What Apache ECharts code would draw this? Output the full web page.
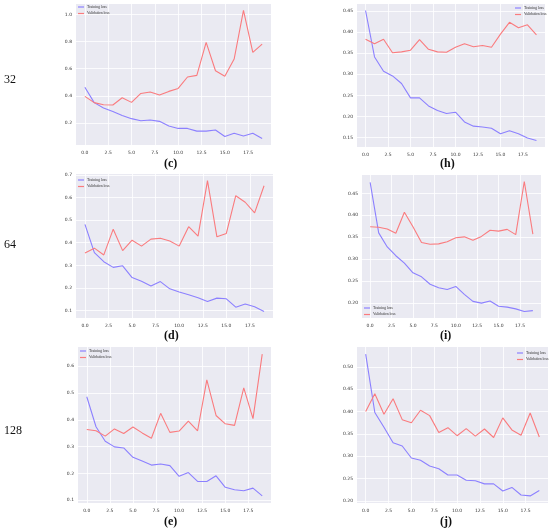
<!DOCTYPE html>
<html>
<head>
<meta charset="utf-8">
<script src="https://cdn.jsdelivr.net/npm/echarts@6/dist/echarts.min.js"></script>
<style>
html,body{margin:0;padding:0;background:#fff;}
#chart{width:550px;height:531px;}
</style>
</head>
<body>
<div id="chart"></div>
<script>
// ---- data ----
var epochs = [0,1,2,3,4,5,6,7,8,9,10,11,12,13,14,15,16,17,18,19];
var xTicks = [0, 2.5, 5, 7.5, 10, 12.5, 15, 17.5];

var cTrain = [0.463,0.350,0.310,0.285,0.256,0.232,0.217,0.222,0.212,0.178,0.160,0.160,0.140,0.140,0.148,0.100,0.124,0.104,0.124,0.085];
var cVal   = [0.396,0.350,0.335,0.333,0.386,0.352,0.418,0.428,0.406,0.433,0.455,0.539,0.551,0.794,0.585,0.544,0.671,1.030,0.720,0.782];
var cTicks = [0.2,0.4,0.6,0.8,1.0];

var hTrain = [0.451,0.341,0.307,0.296,0.278,0.244,0.244,0.225,0.214,0.207,0.210,0.187,0.177,0.175,0.172,0.159,0.166,0.159,0.149,0.143];
var hVal   = [0.383,0.372,0.383,0.351,0.353,0.357,0.382,0.359,0.353,0.352,0.364,0.372,0.365,0.368,0.364,0.395,0.423,0.410,0.417,0.393];
var hTicks = [0.15,0.20,0.25,0.30,0.35,0.40,0.45];

var dTrain = [0.481,0.356,0.316,0.291,0.298,0.246,0.230,0.209,0.228,0.196,0.182,0.170,0.157,0.140,0.155,0.152,0.115,0.129,0.117,0.096];
var dVal   = [0.355,0.376,0.346,0.460,0.365,0.411,0.385,0.416,0.420,0.408,0.385,0.471,0.429,0.675,0.426,0.441,0.608,0.579,0.532,0.652];
var dTicks = [0.1,0.2,0.3,0.4,0.5,0.6,0.7];

var iTrain = [0.475,0.360,0.328,0.308,0.291,0.269,0.260,0.243,0.235,0.231,0.238,0.220,0.204,0.200,0.205,0.193,0.191,0.187,0.181,0.183];
var iVal   = [0.374,0.373,0.369,0.359,0.407,0.374,0.338,0.334,0.335,0.340,0.349,0.351,0.343,0.352,0.366,0.364,0.368,0.356,0.477,0.357];
var iTicks = [0.20,0.25,0.30,0.35,0.40,0.45];

var eTrain = [0.486,0.374,0.320,0.299,0.295,0.260,0.246,0.231,0.235,0.229,0.189,0.203,0.170,0.170,0.191,0.148,0.139,0.135,0.145,0.116];
var eVal   = [0.364,0.359,0.339,0.366,0.349,0.373,0.351,0.331,0.424,0.353,0.358,0.395,0.359,0.549,0.416,0.385,0.379,0.519,0.404,0.645];
var eTicks = [0.1,0.2,0.3,0.4,0.5,0.6];

var jTrain = [0.529,0.398,0.365,0.330,0.323,0.296,0.291,0.278,0.272,0.258,0.258,0.246,0.245,0.238,0.238,0.222,0.230,0.213,0.211,0.223];
var jVal   = [0.400,0.440,0.394,0.429,0.382,0.375,0.403,0.391,0.353,0.364,0.346,0.362,0.345,0.361,0.342,0.386,0.359,0.347,0.397,0.343];
var jTicks = [0.20,0.25,0.30,0.35,0.40,0.45,0.50];

var captions = ['(c)','(h)','(d)','(i)','(e)','(j)'];
var rowLabels = ['32','64','128'];
var seriesNames = ['Training loss','Validation loss'];

// ---- layout / styles ----
var panels = [
  {train:cTrain, val:cVal, ticks:cTicks, dec:1, box:[76,4,195,141],  legend:{left:77,top:4},   cap:[172,165]},
  {train:hTrain, val:hVal, ticks:hTicks, dec:2, box:[357,4,188,143], legend:{left:514,top:5},  cap:[448,165]},
  {train:dTrain, val:dVal, ticks:dTicks, dec:1, box:[76,174,197,144],legend:{left:77,top:177},cap:[172,337]},
  {train:iTrain, val:iVal, ticks:iTicks, dec:2, box:[362,175,179,143],legend:{left:363,top:305},cap:[448,337]},
  {train:eTrain, val:eVal, ticks:eTicks, dec:1, box:[78,347,193,156],legend:{left:79,top:348},cap:[172,523]},
  {train:jTrain, val:jVal, ticks:jTicks, dec:2, box:[357,347,191,156],legend:{left:516,top:350},cap:[448,523]}
];
var rowY = [81, 246, 432];
var TRAIN_COLOR = '#8c80ff';
var VAL_COLOR = '#fa7b7e';
var BG = '#eaeaf2';

function pairs(ys){ return epochs.map(function(x,i){ return [x, ys[i]]; }); }

var grids=[], xAxes=[], yAxes=[], series=[], legends=[], graphics=[];
panels.forEach(function(p, k){
  var all = p.train.concat(p.val);
  var lo = Math.min.apply(null, all), hi = Math.max.apply(null, all);
  var pad = (hi - lo) * 0.05;
  grids.push({left:p.box[0], top:p.box[1], width:p.box[2], height:p.box[3],
    show:true, backgroundColor:BG, borderWidth:0, containLabel:false});
  xAxes.push({type:'value', gridIndex:k, min:-0.95, max:19.95,
    axisLine:{show:false},
    axisTick:{show:false, customValues:xTicks},
    axisLabel:{customValues:xTicks, fontSize:4.5, color:'#333', margin:5,
      fontFamily:'DejaVu Sans', formatter:function(v){ return v.toFixed(1); }},
    splitLine:{show:true, lineStyle:{color:'#ffffff', width:0.8}}
  });
  yAxes.push({type:'value', gridIndex:k, min:lo - pad, max:hi + pad,
    axisLine:{show:false},
    axisTick:{show:false, customValues:p.ticks},
    axisLabel:{customValues:p.ticks, fontSize:4.5, color:'#333', margin:4,
      fontFamily:'DejaVu Sans', formatter:(function(d){ return function(v){ return v.toFixed(d); }; })(p.dec)},
    splitLine:{show:true, lineStyle:{color:'#ffffff', width:0.8}}
  });
  series.push({name:seriesNames[0], type:'line', xAxisIndex:k, yAxisIndex:k, data:pairs(p.train),
    showSymbol:false, symbol:'none', lineStyle:{color:TRAIN_COLOR, width:1.1}, itemStyle:{color:TRAIN_COLOR}, animation:false, z:3});
  series.push({name:seriesNames[1], type:'line', xAxisIndex:k, yAxisIndex:k, data:pairs(p.val),
    showSymbol:false, symbol:'none', lineStyle:{color:VAL_COLOR, width:1.1}, itemStyle:{color:VAL_COLOR}, animation:false, z:3});
  legends.push({data:seriesNames, orient:'vertical', left:p.legend.left, top:p.legend.top,
    icon:'rect', itemWidth:6, itemHeight:1.2, itemGap:2.5, padding:1,
    textStyle:{fontSize:3.8, color:'#333', fontFamily:'Liberation Serif', padding:[0,0,0,-2]},
    selectedMode:false});
  graphics.push({type:'text', left:p.cap[0]-8, top:p.cap[1]-7,
    style:{text:captions[k], font:'bold 12px "Liberation Serif"', fill:'#111'}});
});
rowLabels.forEach(function(t, r){
  graphics.push({type:'text', left:4, top:rowY[r]-7,
    style:{text:t, font:'12px "Liberation Serif"', fill:'#111'}});
});

var chart = echarts.init(document.getElementById('chart'), null, {renderer:'canvas'});
chart.setOption({
  animation:false,
  backgroundColor:'#ffffff',
  grid:grids, xAxis:xAxes, yAxis:yAxes, series:series, legend:legends,
  graphic:graphics
});
</script>
</body>
</html>
